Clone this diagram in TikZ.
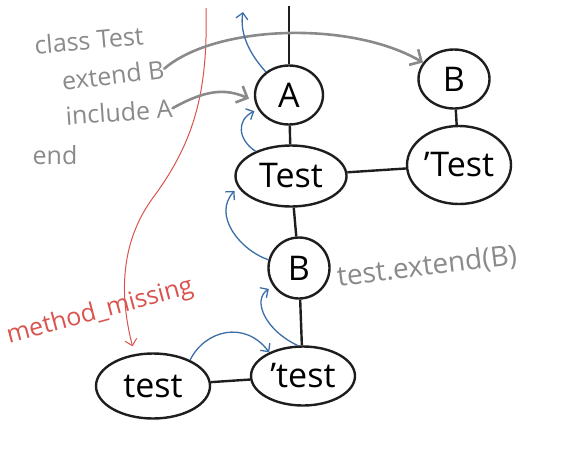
\documentclass[tikz,border=0pt]{standalone}
\usepackage{fontspec}
\setmainfont{Open Sans}
\usetikzlibrary{
  arrows.meta,
  shapes.geometric
}
\definecolor{rbInk}{HTML}{1E1E1E}
\definecolor{rbNote}{HTML}{8A8A8A}
\definecolor{rbCall}{HTML}{3B6EA8}
\definecolor{rbMiss}{HTML}{D9534F}
\tikzset{
  obj/.style={
    draw=rbInk, ellipse, line width=2.4pt, inner sep=0pt,
    font=\fontsize{34}{38}\selectfont
  },
  link/.style={draw=rbInk, line width=2.4pt},
  note/.style={text=rbNote, inner sep=0pt, font=\fontsize{25}{28}\selectfont},
  missnote/.style={text=rbMiss, inner sep=0pt, font=\fontsize{25}{28}\selectfont},
  ref/.style={-{Straight Barb[length=9pt, width=18pt]}, rbNote, line width=2.6pt, line cap=round},
  lookup/.style={-{Straight Barb[length=6pt, width=12pt]}, rbCall, line width=1.3pt},
  miss/.style={-{Straight Barb[length=6pt, width=12pt]}, rbMiss, line width=1pt}
}

\begin{document}
\begin{tikzpicture}[x=1pt, y=-1pt]
  \useasboundingbox (0,0) rectangle (576,448);

  % objects
  \node[obj, minimum width=68, minimum height=59] (A) at (289,95) {A};
  \node[obj, minimum width=71, minimum height=59] (B) at (454,79) {B};
  \node[obj, minimum width=111, minimum height=61] (Test) at (291,176) {Test};
  \node[obj, minimum width=104, minimum height=78] (metaTest) at (459,165) {’Test};
  \node[obj, minimum width=61, minimum height=61] (singB) at (299,268) {B};
  \node[obj, minimum width=104, minimum height=59] (singtest) at (303,376) {’test};
  \node[obj, minimum width=114, minimum height=65] (test) at (153,386) {test};
  \coordinate (chaintop) at (289,6);

  \draw[link] (A) -- (chaintop);
  \draw[link] (A) -- (Test);
  \draw[link] (B) -- (metaTest);
  \draw[link] (Test) -- (metaTest);
  \draw[link] (Test) -- (singB);
  \draw[link] (singB) -- (singtest);
  \draw[link] (test) -- (singtest);

  % source code
  \node[note, rotate=5] (lclass) at (89,40) {class Test};
  \node[note, rotate=7] (lextend) at (113,75) {extend B};
  \node[note, rotate=4] (linclude) at (119,112) {include A};
  \node[note] (lend) at (55,155) {end};
  \node[note, rotate=7, font=\fontsize{28}{30}\selectfont] (lcall) at (427,267) {test.extend(B)};
  \node[missnote, rotate=15] (lmiss) at (100,312) {method\_missing};

  % method lookup
  \coordinate (misstop) at (206,8);
  \draw[miss, shorten >=8pt] (misstop) .. controls (208,90) and (195,140) .. (155,195)
    .. controls (122,238) and (118,290) .. (test.120);

  \draw[ref] (lextend.east) .. controls (215,25) and (350,20) .. (B.152);
  \draw[ref, shorten >=6pt] (linclude.east) .. controls (205,90) and (225,88) .. (A.190);

  \coordinate (upA) at (243,12);
  \draw[lookup] (A.135) .. controls (246,50) and (240,30) .. (upA);
  \draw[lookup, shorten >=4pt] (Test.145) .. controls (238,140) and (236,120) .. (A.205);
  \draw[lookup, shorten >=5pt] (singB.165) .. controls (240,250) and (212,215) .. (Test.192);
  \draw[lookup, shorten >=5pt] (singtest.100) .. controls (265,330) and (252,300) .. (singB.215);
  \draw[lookup] (test.35) .. controls (205,330) and (245,320) .. (singtest.145);
\end{tikzpicture}
\end{document}
